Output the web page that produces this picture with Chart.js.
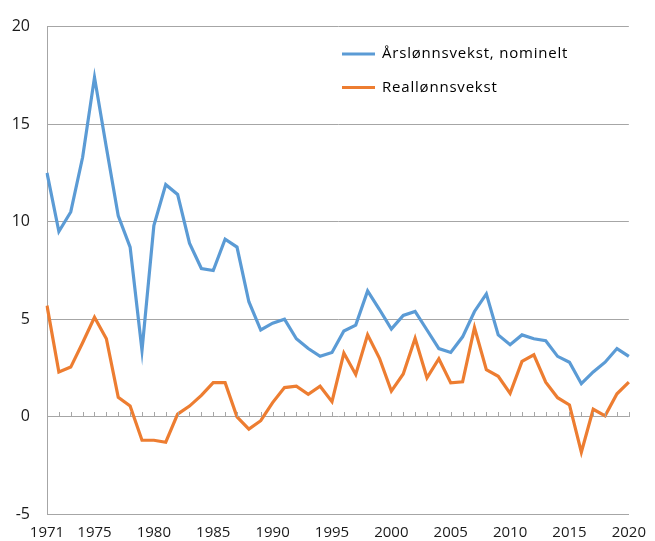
<!DOCTYPE html>
<html>
<head>
<meta charset="utf-8">
<script src="https://cdn.jsdelivr.net/npm/chart.js@4/dist/chart.umd.min.js"></script>
<style>
html,body{margin:0;padding:0;background:#fff;}
#wrap{width:655px;height:541px;}
</style>
</head>
<body>
<div id="wrap"><canvas id="c" width="655" height="541"></canvas></div>
<script>
const years = ["1971","1972","1973","1974","1975","1976","1977","1978","1979","1980",
  "1981","1982","1983","1984","1985","1986","1987","1988","1989","1990",
  "1991","1992","1993","1994","1995","1996","1997","1998","1999","2000",
  "2001","2002","2003","2004","2005","2006","2007","2008","2009","2010",
  "2011","2012","2013","2014","2015","2016","2017","2018","2019","2020"];
const shownYearLabels = ["1971","1975","1980","1985","1990","1995","2000","2005","2010","2015","2020"];
const nominal = [12.5,9.5,10.5,13.3,17.4,13.8,10.3,8.7,3.4,9.8,
  11.9,11.4,8.9,7.6,7.5,9.1,8.7,5.9,4.45,4.8,
  5.0,4.0,3.5,3.1,3.3,4.4,4.7,6.45,5.5,4.5,
  5.2,5.4,4.45,3.5,3.3,4.1,5.4,6.3,4.2,3.7,
  4.2,4.0,3.9,3.1,2.8,1.7,2.3,2.8,3.5,3.1];
const real = [5.7,2.3,2.55,3.8,5.1,4.0,1.0,0.56,-1.2,-1.2,
  -1.3,0.14,0.55,1.1,1.75,1.75,0.0,-0.63,-0.2,0.73,
  1.5,1.57,1.15,1.57,0.78,3.27,2.17,4.2,3.0,1.32,
  2.2,4.03,2.0,2.98,1.74,1.8,4.57,2.42,2.08,1.2,
  2.84,3.18,1.78,0.98,0.61,-1.81,0.39,0.05,1.18,1.78];
const seriesNames = ["Årslønnsvekst, nominelt","Reallønnsvekst"];
const yTicks = [-5,0,5,10,15,20];

const FONT = "'Open Sans', 'Noto Sans', sans-serif";
const GRID = '#a6a6a6';

const tickMarks = {
  id:'tickMarks',
  afterDatasetsDraw(chart){
    const x = chart.scales.x, y = chart.scales.y, ctx = chart.ctx;
    const y0 = y.getPixelForValue(0);
    ctx.save();
    ctx.strokeStyle = GRID; ctx.lineWidth = 1;
    ctx.beginPath();
    for(let i=0;i<years.length;i++){
      const px = Math.round(x.getPixelForValue(i))+0.5;
      ctx.moveTo(px, Math.round(y0)); ctx.lineTo(px, Math.round(y0)-5);
    }
    ctx.stroke();
    ctx.restore();
  },
  afterDraw(chart){
    const ctx = chart.ctx;
    ctx.save();
    chart.data.datasets.forEach((ds,i)=>{
      const ly = 54 + i*33.5;
      ctx.strokeStyle = ds.borderColor; ctx.lineWidth = 3;
      ctx.beginPath(); ctx.moveTo(342, ly); ctx.lineTo(375, ly); ctx.stroke();
      ctx.fillStyle = '#000';
      ctx.font = '15px ' + FONT;
      try { ctx.letterSpacing = '0.8px'; } catch(e) {}
      ctx.textBaseline = 'middle';
      ctx.textAlign = 'left';
      ctx.fillText(ds.label, 382, ly);
    });
    ctx.restore();
  }
};

new Chart(document.getElementById('c'), {
  type:'line',
  data:{
    labels: years,
    datasets:[
      {label: seriesNames[0], data: nominal, borderColor:'#5b9bd5', borderWidth:3.2, pointRadius:0, tension:0, fill:false},
      {label: seriesNames[1], data: real, borderColor:'#ed7d31', borderWidth:3.2, pointRadius:0, tension:0, fill:false}
    ]
  },
  options:{
    responsive:false,
    animation:false,
    layout:{padding:{left:0,right:22,top:20,bottom:0}},
    plugins:{legend:{display:false}, tooltip:{enabled:false}},
    scales:{
      x:{
        offset:false,
        grid:{display:false, drawTicks:false},
        border:{display:true, color:GRID, width:1},
        ticks:{
          autoSkip:false, maxRotation:0, minRotation:0, padding:9,
          color:'#1a1a1a', font:{family:FONT, size:15},
          callback:function(v,i){ const l = years[i]; return shownYearLabels.includes(l) ? l : ''; }
        },
        afterFit(s){ s.height = 26; }
      },
      y:{
        min:-5, max:20,
        afterBuildTicks(s){ s.ticks = yTicks.map(v=>({value:v})); },
        grid:{color:GRID, lineWidth:1, drawTicks:false},
        border:{display:true, color:GRID, width:1},
        ticks:{padding:17, color:'#1a1a1a', font:{family:FONT, size:16}},
        afterFit(s){ s.width = 47; }
      }
    }
  },
  plugins:[tickMarks]
});
</script>
</body>
</html>
